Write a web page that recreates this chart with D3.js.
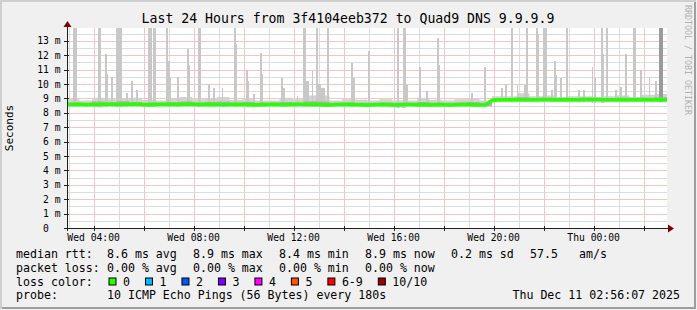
<!DOCTYPE html>
<html lang="en">

<head>
  <meta charset="utf-8">
  <title>Last 24 Hours from 3f4104eeb372 to Quad9 DNS 9.9.9.9</title>
  <script src="https://cdn.jsdelivr.net/npm/d3@7"></script>
  <style>
    body {
      margin: 0;
      background: #f0f0f0;
    }

    svg text {
      font-family: "DejaVu Sans Mono", monospace;
      white-space: pre;
    }
  </style>
</head>

<body>
  <div id="my_dataviz"></div>
  <script>
    // graph end / start (24 hours)
    var endTime = new Date(2025, 11, 11, 2, 56, 7);
    var startTime = new Date(endTime.getTime() - 24 * 3600 * 1000);
    var yMax = 13.89;

    // median rtt (ms), one value every 15 minutes from startTime
    var medianRtt = [
      8.58, 8.57, 8.60, 8.56, 8.58, 8.57, 8.59, 8.60, 8.58, 8.57, 8.60, 8.61,
      8.58, 8.56, 8.58, 8.60, 8.59, 8.57, 8.58, 8.60, 8.62, 8.58, 8.57, 8.59,
      8.58, 8.56, 8.58, 8.60, 8.58, 8.57, 8.55, 8.57, 8.58, 8.60, 8.57, 8.56,
      8.58, 8.59, 8.60, 8.57, 8.58, 8.56, 8.55, 8.57, 8.58, 8.60, 8.57, 8.56,
      8.54, 8.56, 8.57, 8.58, 8.56, 8.55, 8.57, 8.58, 8.56, 8.57, 8.55, 8.56,
      8.57, 8.55, 8.56, 8.58, 8.57, 8.56, 8.55, 8.56,
      8.86, 8.90, 8.91, 8.90, 8.92, 8.91, 8.90, 8.91, 8.93, 8.92, 8.90, 8.91,
      8.92, 8.90, 8.91, 8.92, 8.93, 8.92, 8.91, 8.90, 8.91, 8.92, 8.91, 8.90,
      8.92, 8.91, 8.90, 8.92, 8.91
    ];

    // light smoke range (ms), one value every 30 minutes
    var smokeLo = [
      8.38, 8.38, 8.37, 8.38, 8.38, 8.39, 8.38, 8.37, 8.38, 8.38, 8.38, 8.37,
      8.38, 8.38, 8.37, 8.38, 8.38, 8.38, 8.37, 8.38, 8.38, 8.38, 8.37, 8.38,
      8.38, 8.37, 8.36, 8.38, 8.38, 8.37, 8.38, 8.37, 8.38, 8.38,
      8.72, 8.72, 8.73, 8.72, 8.72, 8.73, 8.72, 8.72, 8.71, 8.72, 8.72, 8.73,
      8.72, 8.72
    ];
    var smokeHi = [
      8.95, 8.85, 9.05, 8.95, 9.00, 9.05, 8.90, 8.85, 9.00, 9.10, 8.95, 9.00,
      9.10, 8.90, 8.95, 8.85, 8.85, 9.05, 8.95, 9.20, 9.20, 8.85, 8.95, 8.90,
      8.85, 8.95, 8.85, 8.85, 9.05, 8.90, 8.85, 8.95, 9.00, 8.85,
      9.15, 9.15, 9.35, 9.15, 9.20, 9.10, 9.15, 9.15, 9.10, 9.15, 9.20, 9.10,
      9.25, 9.30
    ];
    // darker smoke close to the median, one value every 30 minutes
    var smokeMidLo = [
      8.47, 8.48, 8.46, 8.47, 8.48, 8.47, 8.46, 8.48, 8.47, 8.47, 8.46, 8.48,
      8.47, 8.48, 8.47, 8.46, 8.47, 8.48, 8.47, 8.46, 8.47, 8.48, 8.47, 8.46,
      8.47, 8.46, 8.45, 8.47, 8.46, 8.47, 8.46, 8.47, 8.46, 8.47,
      8.80, 8.81, 8.80, 8.81, 8.80, 8.81, 8.80, 8.80, 8.81, 8.80, 8.81, 8.80,
      8.81, 8.80
    ];
    var smokeMidHi = [
      8.72, 8.70, 8.78, 8.74, 8.80, 8.74, 8.72, 8.70, 8.75, 8.78, 8.72, 8.75,
      8.78, 8.72, 8.75, 8.70, 8.70, 8.75, 8.72, 8.80, 8.78, 8.70, 8.72, 8.70,
      8.70, 8.72, 8.70, 8.70, 8.75, 8.72, 8.70, 8.72, 8.75, 8.70,
      9.02, 9.02, 9.08, 9.02, 9.05, 9.02, 9.02, 9.05, 9.02, 9.02, 9.05, 9.02,
      9.05, 9.08
    ];

    // smoke spikes: [time, highest ping (ms), samples wide, dark layer top]
    var spikes = [
      ["10 03:16", 15, 3], ["10 04:14", 15, 3], ["10 04:30", 12.1, 1], ["10 04:33", 10.7, 1],
      ["10 04:44", 10.5, 1], ["10 04:56", 15, 2], ["10 05:04", 15, 3], ["10 05:20", 9.4, 1],
      ["10 05:32", 10.2, 2], ["10 05:44", 9.6, 1], ["10 06:16", 15, 3], ["10 06:26", 15, 3],
      ["10 06:56", 15, 2], ["10 07:01", 11.6, 2], ["10 07:04", 10.5, 1], ["10 07:22", 10.5, 2],
      ["10 07:46", 12.4, 2], ["10 07:51", 11.3, 1], ["10 08:14", 15, 3], ["10 08:37", 9.9, 2],
      ["10 08:49", 9.7, 2], ["10 09:10", 9.7, 1], ["10 09:39", 15, 2], ["10 09:43", 12.8, 1],
      ["10 10:08", 11.0, 1], ["10 10:11", 10.2, 1], ["10 10:25", 9.3, 2], ["10 10:42", 12.15, 1],
      ["10 10:44", 10.7, 1], ["10 11:32", 10.4, 1], ["10 11:37", 9.7, 2], ["10 12:10", 9.2, 1],
      ["10 12:26", 15, 3], ["10 12:33", 10.2, 2], ["10 12:46", 10.9, 1], ["10 12:56", 15, 2],
      ["10 13:02", 10.0, 2], ["10 13:10", 9.7, 3], ["10 13:22", 15, 2], ["10 14:20", 11.45, 2],
      ["10 14:25", 10.4, 1], ["10 15:01", 12.3, 2], ["10 16:10", 15, 2], ["10 16:26", 15, 3],
      ["10 16:32", 9.9, 1], ["10 17:03", 11.15, 2], ["10 17:20", 9.5, 1], ["10 17:46", 13.2, 2],
      ["10 17:50", 11.3, 1], ["10 19:08", 9.4, 1], ["10 19:39", 11.2, 2], ["10 20:20", 9.7, 1],
      ["10 20:30", 10.0, 1], ["10 20:44", 15, 2], ["10 20:58", 9.9, 1], ["10 21:15", 9.9, 2],
      ["10 21:20", 15, 2], ["10 21:44", 15, 2], ["10 21:48", 13.5, 1], ["10 22:04", 15, 3],
      ["10 22:20", 9.6, 2], ["10 22:27", 11.6, 2], ["10 22:31", 10.6, 1], ["10 22:42", 10.4, 1],
      ["10 22:56", 15, 2], ["10 23:25", 9.6, 1], ["10 23:37", 9.6, 1], ["10 23:58", 11.2, 1],
      ["11 00:03", 10.4, 2], ["11 00:20", 15, 2], ["11 00:24", 12.1, 1], ["11 00:32", 15, 2],
      ["11 00:54", 9.6, 1], ["11 01:06", 9.8, 2], ["11 01:18", 12.1, 1], ["11 01:38", 15, 3],
      ["11 01:54", 11.0, 1], ["11 02:15", 10.5, 1], ["11 02:30", 10.2, 1], ["11 02:42", 15, 3, 15]
    ];

    // legend
    var rttLabels = ["avg", "max", "min", "now"];
    var rttValues = [8.6, 8.9, 8.4, 8.9];
    var rttSd = 0.2;
    var rttAmS = 57.5;
    var lossValues = [0, 0, 0, 0];
    var lossLabels = ["0", "1", "2", "3", "4", "5", "6-9", "10/10"];
    var lossColors = ["#26ff00", "#00b8ff", "#0059ff", "#7e00ff", "#ff00ff", "#ff5500", "#ff0000", "#a10000"];
    var probeText = "10 ICMP Echo Pings (56 Bytes) every 180s";
    var stampText = "Thu Dec 11 02:56:07 2025";
    var titleText = "Last 24 Hours from 3f4104eeb372 to Quad9 DNS 9.9.9.9";

    var parseT = d3.timeParse("%Y-%m-%d %H:%M");
    function toTime(s) { return parseT("2025-12-" + s); }
    function step(i, minutes) { return new Date(startTime.getTime() + i * minutes * 60000); }

    var W = 697, H = 310;
    var plot = { left: 67, right: 667, top: 28, bottom: 228 };

    var svg = d3.select("#my_dataviz")
      .append("svg")
      .attr("width", W)
      .attr("height", H);

    // background and 3d frame
    svg.append("rect").attr("width", W).attr("height", H).attr("fill", "#f0f0f0");
    svg.append("path").attr("d", "M1,309V1H696").attr("fill", "none").attr("stroke", "#cfcfcf").attr("stroke-width", 2);
    svg.append("path").attr("d", "M2,308H695V2").attr("fill", "none").attr("stroke", "#9e9e9e").attr("stroke-width", 2);

    svg.append("rect")
      .attr("x", plot.left).attr("y", plot.top)
      .attr("width", plot.right - plot.left).attr("height", plot.bottom - plot.top)
      .attr("fill", "#ffffff");

    var x = d3.scaleTime().domain([startTime, endTime]).range([plot.left, plot.right]);
    var y = d3.scaleLinear().domain([0, yMax]).range([plot.bottom, plot.top]);

    svg.append("clipPath").attr("id", "clip")
      .append("rect")
      .attr("x", plot.left).attr("y", plot.top)
      .attr("width", plot.right - plot.left).attr("height", plot.bottom - plot.top);

    // grid: hour lines, 2-hour major lines; 0.5 ms lines, 1 ms major lines
    var hours = d3.timeHour.range(d3.timeHour.ceil(startTime), endTime);
    var msLines = d3.range(1, 28).map(function (i) { return i / 2; });
    var grid = svg.append("g").attr("stroke-width", 1).attr("fill", "none");

    grid.append("g").selectAll("line")
      .data(hours.filter(function (d) { return d.getHours() % 2 == 1; }))
      .join("line")
      .attr("stroke", "#dcdcdc")
      .attr("x1", function (d) { return Math.round(x(d)) + 0.5; })
      .attr("x2", function (d) { return Math.round(x(d)) + 0.5; })
      .attr("y1", plot.top).attr("y2", plot.bottom);
    grid.append("g").selectAll("line")
      .data(msLines.filter(function (d) { return d % 1 != 0; }))
      .join("line")
      .attr("stroke", "#dcdcdc")
      .attr("x1", plot.left).attr("x2", plot.right)
      .attr("y1", function (d) { return Math.round(y(d)) + 0.5; })
      .attr("y2", function (d) { return Math.round(y(d)) + 0.5; });
    grid.append("g").selectAll("line")
      .data(hours.filter(function (d) { return d.getHours() % 2 == 0; }))
      .join("line")
      .attr("stroke", "#f7c4c4")
      .attr("x1", function (d) { return Math.round(x(d)) + 0.5; })
      .attr("x2", function (d) { return Math.round(x(d)) + 0.5; })
      .attr("y1", plot.top).attr("y2", plot.bottom);
    grid.append("g").selectAll("line")
      .data(msLines.filter(function (d) { return d % 1 == 0; }))
      .join("line")
      .attr("stroke", "#f7c4c4")
      .attr("x1", plot.left).attr("x2", plot.right)
      .attr("y1", function (d) { return Math.round(y(d)) + 0.5; })
      .attr("y2", function (d) { return Math.round(y(d)) + 0.5; });

    // smoke
    var data = svg.append("g").attr("clip-path", "url(#clip)");
    var bins = smokeHi.map(function (v, i) {
      return { t: step(i, 30), lo: smokeLo[i], hi: v, mlo: smokeMidLo[i], mhi: smokeMidHi[i] };
    });
    var last = bins[bins.length - 1];
    bins.push({ t: endTime, lo: last.lo, hi: last.hi, mlo: last.mlo, mhi: last.mhi });

    data.append("path").datum(bins)
      .attr("fill", "#d2d2d2")
      .attr("d", d3.area().curve(d3.curveStepAfter)
        .x(function (d) { return x(d.t); })
        .y0(function (d) { return y(d.lo); })
        .y1(function (d) { return y(d.hi); }));

    function binAt(t) {
      var i = Math.min(smokeLo.length - 1, Math.floor((t - startTime) / 1800000));
      return bins[i];
    }

    data.selectAll(".spike").data(spikes).enter().append("rect")
      .attr("x", function (d) { return x(toTime(d[0])) - d[2] * 0.625; })
      .attr("width", function (d) { return x(step(d[2], 3)) - x(startTime); })
      .attr("y", function (d) { return y(d[1]); })
      .attr("height", function (d) { return y(binAt(toTime(d[0])).lo) - y(d[1]); })
      .attr("fill", "#c8c8c8")
      .attr("shape-rendering", "crispEdges");

    data.selectAll(".spikedark").data(spikes.filter(function (d) { return d[3]; })).enter().append("rect")
      .attr("x", function (d) { return x(toTime(d[0])) - d[2] * 0.625; })
      .attr("width", function (d) { return x(step(d[2], 3)) - x(startTime); })
      .attr("y", function (d) { return y(d[3]); })
      .attr("height", function (d) { return y(binAt(toTime(d[0])).lo) - y(d[3]); })
      .attr("fill", "#9a9a9a")
      .attr("shape-rendering", "crispEdges");

    data.append("path").datum(bins)
      .attr("fill", "#b0b0b0")
      .attr("d", d3.area().curve(d3.curveStepAfter)
        .x(function (d) { return x(d.t); })
        .y0(function (d) { return y(d.mlo); })
        .y1(function (d) { return y(d.mhi); }));

    // median line
    data.append("path").datum(medianRtt)
      .attr("fill", "none")
      .attr("stroke", lossColors[0])
      .attr("stroke-width", 3.5)
      .attr("d", d3.line()
        .x(function (d, i) { return x(step(i, 15)); })
        .y(function (d) { return y(d); }));

    // axes
    var axis = svg.append("g").attr("stroke", "#202020").attr("stroke-width", 1);
    axis.append("line").attr("x1", plot.left - 3).attr("x2", plot.right + 2)
      .attr("y1", plot.bottom + 0.5).attr("y2", plot.bottom + 0.5);
    axis.append("line").attr("x1", plot.left + 0.5).attr("x2", plot.left + 0.5)
      .attr("y1", plot.bottom + 3).attr("y2", plot.top - 2);
    axis.selectAll(".ytick").data(d3.range(1, 14))
      .enter().append("line")
      .attr("x1", plot.left - 3).attr("x2", plot.left + 2)
      .attr("y1", function (d) { return Math.round(y(d)) + 0.5; })
      .attr("y2", function (d) { return Math.round(y(d)) + 0.5; });
    axis.selectAll(".xtick").data(hours.filter(function (d) { return d.getHours() % 2 == 0; }))
      .enter().append("line")
      .attr("x1", function (d) { return Math.round(x(d)) + 0.5; })
      .attr("x2", function (d) { return Math.round(x(d)) + 0.5; })
      .attr("y1", plot.bottom - 2).attr("y2", plot.bottom + 3);

    svg.append("path").attr("fill", "#800000")
      .attr("d", "M" + (plot.right + 1) + "," + (plot.bottom - 3.5) + "l6,4l-6,4z");
    svg.append("path").attr("fill", "#800000")
      .attr("d", "M" + (plot.left - 3.5) + "," + (plot.top - 1) + "l4,-6l4,6z");

    // y labels
    svg.selectAll(".ylab").data(d3.range(0, 14))
      .enter().append("text")
      .attr("x", 60.5)
      .attr("y", function (d) { return y(d) + 3.5; })
      .attr("text-anchor", "end")
      .attr("font-size", "9.7px")
      .attr("fill", "#000")
      .text(function (d) { return d == 0 ? "0\u00a0\u00a0" : d + " m"; });

    // x labels
    var fmt = d3.timeFormat("%a %H:%M");
    svg.selectAll(".xlab").data(hours.filter(function (d) { return d.getHours() % 4 == 0; }))
      .enter().append("text")
      .attr("x", function (d) { return x(d); })
      .attr("y", 241)
      .attr("text-anchor", "middle")
      .attr("font-size", "9.7px")
      .text(function (d) { return fmt(d); });

    // titles
    svg.append("text").attr("x", 348).attr("y", 23).attr("text-anchor", "middle")
      .attr("font-size", "13.2px").text(titleText);
    svg.append("text").attr("transform", "translate(13,128) rotate(-90)").attr("text-anchor", "middle")
      .attr("font-size", "11px").text("Seconds");
    svg.append("text").attr("transform", "translate(685,5) rotate(90)")
      .attr("font-size", "8.3px").attr("fill", "#b0b0b0").text("RRDTOOL / TOBI OETIKER");

    // legend
    var leg = svg.append("g").attr("font-size", "11.6px").attr("fill", "#000");
    var col0 = 16, col1 = 107, colW = 86, cw = 6.98;
    var rows = [258, 271.5, 285.5, 299];

    leg.append("text").attr("x", col0).attr("y", rows[0]).text("median rtt:");
    rttValues.forEach(function (v, i) {
      leg.append("text").attr("x", col1 + i * colW).attr("y", rows[0])
        .text(v.toFixed(1) + " ms " + rttLabels[i]);
    });
    leg.append("text").attr("x", col1 + 4 * colW).attr("y", rows[0]).text(rttSd.toFixed(1) + " ms sd");
    leg.append("text").attr("x", 530).attr("y", rows[0]).text(rttAmS.toFixed(1));
    leg.append("text").attr("x", 579).attr("y", rows[0]).text("am/s");

    leg.append("text").attr("x", col0).attr("y", rows[1]).text("packet loss:");
    lossValues.forEach(function (v, i) {
      leg.append("text").attr("x", col1 + i * colW).attr("y", rows[1])
        .text(v.toFixed(2) + " % " + rttLabels[i]);
    });

    leg.append("text").attr("x", col0).attr("y", rows[2]).text("loss color:");
    var bx = 108.5;
    lossLabels.forEach(function (l, i) {
      leg.append("rect").attr("x", bx + 0.5).attr("y", rows[2] - 7.5).attr("width", 7).attr("height", 7)
        .attr("fill", lossColors[i]).attr("stroke", "#000").attr("stroke-width", 1);
      leg.append("text").attr("x", bx + 14.5).attr("y", rows[2]).text(l);
      bx = bx + 14.5 + l.length * cw + 15;
    });

    leg.append("text").attr("x", col0).attr("y", rows[3]).text("probe:");
    leg.append("text").attr("x", col1).attr("y", rows[3]).text(probeText);
    leg.append("text").attr("x", 680).attr("y", rows[3]).attr("text-anchor", "end").text(stampText);
  </script>
</body>

</html>
